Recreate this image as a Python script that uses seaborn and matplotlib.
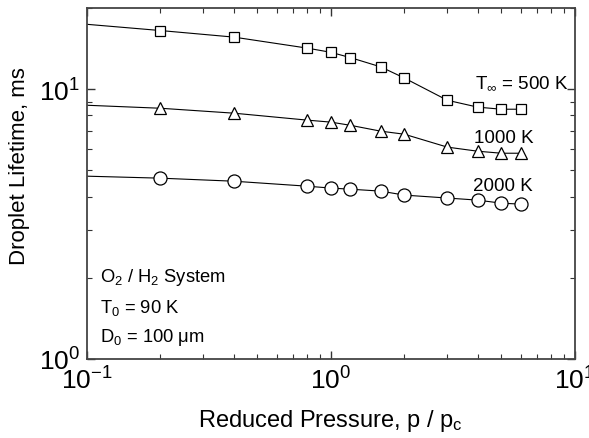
import numpy as np
import pandas as pd
import seaborn as sns
import matplotlib
matplotlib.use("Agg")
import matplotlib.pyplot as plt
from matplotlib.ticker import LogLocator, NullFormatter

# reduced pressure p/pc (first point only starts the curve, no marker)
pressure = [0.1, 0.2, 0.4, 0.8, 1.0, 1.2, 1.6, 2.0, 3.0, 4.0, 5.0, 6.0]
life_500 = [17.4, 16.5, 15.6, 14.2, 13.7, 13.1, 12.1, 11.0, 9.1, 8.58, 8.43, 8.43]
life_1000 = [8.72, 8.50, 8.15, 7.68, 7.55, 7.35, 6.99, 6.81, 6.10, 5.89, 5.79, 5.79]
life_2000 = [4.76, 4.68, 4.56, 4.37, 4.30, 4.26, 4.19, 4.05, 3.95, 3.88, 3.78, 3.75]

series = {"500 K": (life_500, "s", 7.2),
          "1000 K": (life_1000, "^", 8.0),
          "2000 K": (life_2000, "o", 9.4)}

sns.set_theme(style="ticks")
plt.rcParams["font.family"] = ["Liberation Sans", "DejaVu Sans"]
plt.rcParams["mathtext.fontset"] = "custom"
plt.rcParams["mathtext.rm"] = "Liberation Sans"
plt.rcParams["mathtext.it"] = "Liberation Sans:italic"
for key in ["text.color", "axes.labelcolor", "xtick.labelcolor", "ytick.labelcolor"]:
    plt.rcParams[key] = "black"

fig = plt.figure(figsize=(5.89, 4.39), dpi=100)
ax = fig.add_axes([0.1477, 0.18, 0.8283, 0.7995])

for name, (vals, mk, ms) in series.items():
    df = pd.DataFrame({"p": pressure, "t": vals})
    sns.lineplot(data=df, x="p", y="t", ax=ax, color="black", lw=0.8,
                 marker=mk, markersize=ms, markerfacecolor="white",
                 markeredgecolor="black", markeredgewidth=0.9,
                 markevery=list(range(1, len(pressure))), estimator=None)

ax.set_xscale("log")
ax.set_yscale("log")
ax.set_xlim(0.1, 10)
ax.set_ylim(1, 20)

ax.xaxis.set_major_locator(LogLocator(base=10))
ax.yaxis.set_major_locator(LogLocator(base=10))
ax.xaxis.set_minor_locator(LogLocator(base=10, subs=np.arange(2, 10)))
ax.yaxis.set_minor_locator(LogLocator(base=10, subs=np.arange(2, 10)))
ax.xaxis.set_minor_formatter(NullFormatter())
ax.yaxis.set_minor_formatter(NullFormatter())

ax.tick_params(which="both", direction="in", top=True, right=True,
               colors="#333333", labelcolor="black", labelsize=19, pad=5)
ax.tick_params(which="major", length=6, width=1)
ax.tick_params(which="minor", length=3.5, width=0.8)
for sp in ax.spines.values():
    sp.set_color("#444444")
    sp.set_linewidth(1.3)

ax.set_xlabel("Reduced Pressure, p / p$_\\mathregular{c}$", fontsize=17, labelpad=10)
ax.set_ylabel("Droplet Lifetime, ms", fontsize=16)
ax.yaxis.set_label_coords(-0.117, 0.553)

ax.text(3.88, 10.15, "T$_\\infty$ = 500 K", fontsize=13.5)
ax.text(3.86, 6.36, "1000 K", fontsize=13.5)
ax.text(3.84, 4.22, "2000 K", fontsize=13.5)

ax.text(0.113, 1.945, "O$_2$ / H$_2$ System", fontsize=13.2)
ax.text(0.113, 1.49, "T$_0$ = 90 K", fontsize=13.2)
ax.text(0.113, 1.166, "D$_0$ = 100 \u03bcm", fontsize=13.2)

fig.savefig("out.png", dpi=100)
